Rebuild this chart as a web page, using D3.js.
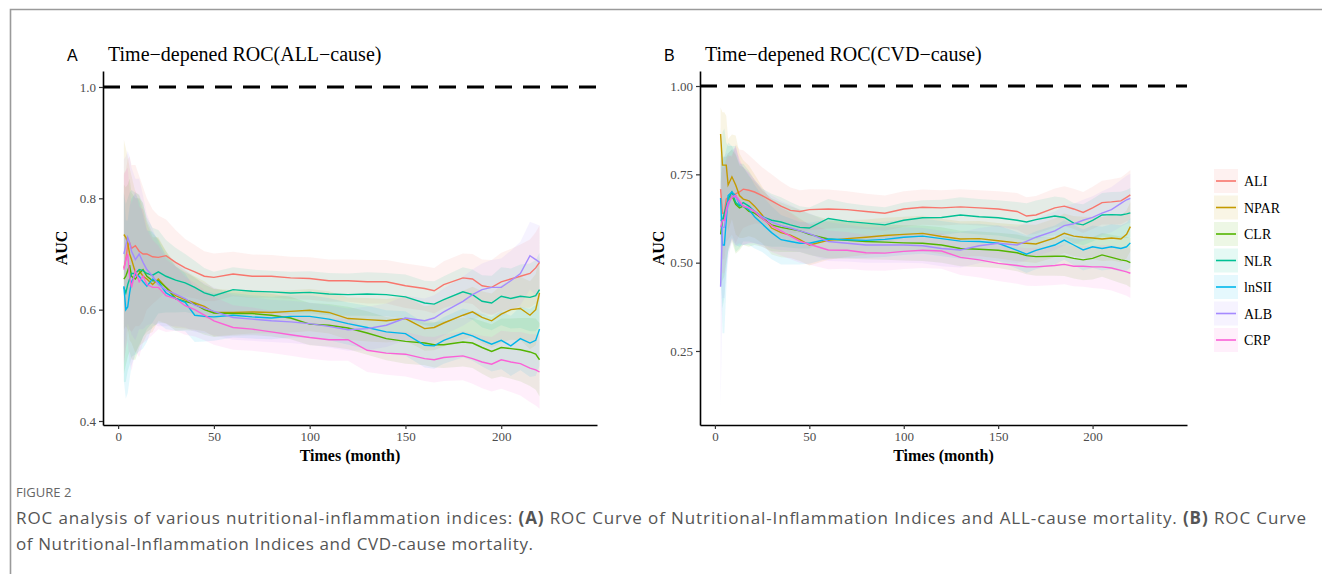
<!DOCTYPE html>
<html>
<head>
<meta charset="utf-8">
<script src="https://cdn.jsdelivr.net/npm/d3@7/dist/d3.min.js"></script>
<style>
  body { margin: 0; background: #fff; }
</style>
</head>
<body>
<script>
// page size
const WIDTH = 1322, HEIGHT = 574;

const seriesNames = ['ALI', 'NPAR', 'CLR', 'NLR', 'lnSII', 'ALB', 'CRP'];
const seriesColors = ['#F8766D', '#C49A00', '#53B400', '#00C094', '#00B6EB', '#A58AFF', '#FB61D7'];

const months = [3, 4, 5, 6, 7, 9, 11, 13, 15, 18,
  21, 25, 30, 35, 40, 45, 50, 60, 70, 80,
  90, 100, 110, 120, 130, 140, 150, 160, 165, 170,
  180, 185, 190, 195, 200, 205, 210, 215, 218, 220];

// panel A: all-cause mortality
const aliAll = [0.675, 0.69, 0.715, 0.72, 0.71, 0.715, 0.705, 0.70, 0.70, 0.695,
  0.694, 0.697, 0.685, 0.675, 0.668, 0.66, 0.658, 0.664, 0.66, 0.66,
  0.657, 0.656, 0.652, 0.652, 0.65, 0.65, 0.643, 0.638, 0.634, 0.645,
  0.657, 0.655, 0.643, 0.64, 0.65, 0.655, 0.66, 0.665, 0.675, 0.685];
const nparAll = [0.735, 0.73, 0.72, 0.70, 0.69, 0.667, 0.67, 0.66, 0.655, 0.645,
  0.655, 0.64, 0.625, 0.618, 0.612, 0.606, 0.595, 0.595, 0.596, 0.595,
  0.597, 0.599, 0.595, 0.584, 0.582, 0.58, 0.584, 0.566, 0.568, 0.576,
  0.59, 0.596, 0.586, 0.58, 0.592, 0.6, 0.602, 0.59, 0.6, 0.63];
const clrAll = [0.655, 0.66, 0.67, 0.68, 0.66, 0.655, 0.665, 0.672, 0.66, 0.652,
  0.652, 0.64, 0.62, 0.615, 0.61, 0.6, 0.594, 0.593, 0.593, 0.59,
  0.585, 0.574, 0.572, 0.567, 0.558, 0.548, 0.543, 0.54, 0.537, 0.537,
  0.542, 0.54, 0.532, 0.525, 0.532, 0.53, 0.528, 0.524, 0.52, 0.51];
const nlrAll = [0.64, 0.63, 0.645, 0.655, 0.665, 0.665, 0.672, 0.67, 0.665, 0.662,
  0.668, 0.66, 0.653, 0.648, 0.64, 0.63, 0.625, 0.636, 0.633, 0.632,
  0.63, 0.631, 0.628, 0.627, 0.628, 0.627, 0.623, 0.612, 0.61, 0.618,
  0.632, 0.627, 0.615, 0.612, 0.624, 0.62, 0.624, 0.622, 0.625, 0.636];
const lnsiiAll = [0.642, 0.60, 0.605, 0.63, 0.65, 0.663, 0.66, 0.65, 0.642, 0.655,
  0.65, 0.63, 0.62, 0.613, 0.59, 0.588, 0.587, 0.59, 0.587, 0.585,
  0.588, 0.588, 0.583, 0.575, 0.568, 0.56, 0.557, 0.536, 0.535, 0.545,
  0.558, 0.553, 0.545, 0.538, 0.545, 0.535, 0.548, 0.54, 0.545, 0.565];
const albAll = [0.70, 0.715, 0.73, 0.72, 0.705, 0.69, 0.70, 0.685, 0.672, 0.66,
  0.645, 0.635, 0.628, 0.62, 0.608, 0.603, 0.597, 0.586, 0.583, 0.58,
  0.578, 0.575, 0.57, 0.564, 0.566, 0.572, 0.585, 0.58, 0.585, 0.596,
  0.615, 0.627, 0.636, 0.64, 0.64, 0.652, 0.665, 0.697, 0.69, 0.685];
const crpAll = [0.672, 0.69, 0.70, 0.66, 0.64, 0.67, 0.65, 0.66, 0.645, 0.64,
  0.64, 0.625, 0.62, 0.607, 0.60, 0.59, 0.58, 0.568, 0.565, 0.56,
  0.555, 0.55, 0.546, 0.546, 0.527, 0.522, 0.52, 0.512, 0.51, 0.514,
  0.517, 0.512, 0.506, 0.502, 0.51, 0.506, 0.503, 0.495, 0.492, 0.488];
// half width of the confidence band, panel A
const ciHalfAll = [0.17, 0.16, 0.155, 0.155, 0.15, 0.145, 0.135, 0.12, 0.1, 0.085,
  0.075, 0.065, 0.058, 0.052, 0.048, 0.045, 0.043, 0.04, 0.039, 0.038,
  0.038, 0.038, 0.038, 0.038, 0.039, 0.039, 0.04, 0.04, 0.041, 0.042,
  0.044, 0.045, 0.047, 0.049, 0.052, 0.054, 0.057, 0.061, 0.064, 0.066];

// panel B: CVD mortality
const aliCvd = [0.708, 0.64, 0.64, 0.68, 0.685, 0.69, 0.695, 0.70, 0.708, 0.705,
  0.70, 0.69, 0.675, 0.66, 0.648, 0.645, 0.65, 0.652, 0.65, 0.645,
  0.64, 0.652, 0.657, 0.655, 0.658, 0.655, 0.652, 0.645, 0.632, 0.635,
  0.655, 0.66, 0.652, 0.642, 0.655, 0.67, 0.672, 0.675, 0.685, 0.692];
const nparCvd = [0.864, 0.776, 0.776, 0.776, 0.72, 0.743, 0.72, 0.69, 0.68, 0.675,
  0.66, 0.635, 0.598, 0.585, 0.578, 0.565, 0.55, 0.563, 0.568, 0.572,
  0.577, 0.58, 0.583, 0.574, 0.567, 0.568, 0.562, 0.556, 0.555, 0.553,
  0.57, 0.583, 0.575, 0.572, 0.57, 0.567, 0.57, 0.567, 0.58, 0.602];
const clrCvd = [0.58, 0.62, 0.63, 0.65, 0.67, 0.69, 0.665, 0.655, 0.66, 0.645,
  0.64, 0.625, 0.607, 0.60, 0.595, 0.59, 0.58, 0.567, 0.563, 0.56,
  0.558, 0.556, 0.555, 0.55, 0.54, 0.538, 0.535, 0.528, 0.52, 0.517,
  0.518, 0.518, 0.512, 0.508, 0.512, 0.522, 0.515, 0.508, 0.505, 0.50];
const nlrCvd = [0.62, 0.62, 0.64, 0.66, 0.68, 0.70, 0.67, 0.66, 0.67, 0.66,
  0.645, 0.63, 0.62, 0.615, 0.607, 0.60, 0.598, 0.625, 0.617, 0.612,
  0.607, 0.62, 0.627, 0.628, 0.635, 0.63, 0.627, 0.62, 0.615, 0.622,
  0.632, 0.628, 0.612, 0.607, 0.62, 0.635, 0.636, 0.635, 0.638, 0.641];
const lnsiiCvd = [0.683, 0.55, 0.55, 0.62, 0.69, 0.70, 0.69, 0.665, 0.66, 0.65,
  0.63, 0.61, 0.585, 0.565, 0.56, 0.555, 0.555, 0.567, 0.565, 0.563,
  0.566, 0.572, 0.575, 0.568, 0.561, 0.56, 0.555, 0.535, 0.524, 0.535,
  0.55, 0.564, 0.55, 0.536, 0.545, 0.54, 0.545, 0.54, 0.545, 0.556];
const albCvd = [0.432, 0.60, 0.60, 0.64, 0.66, 0.69, 0.685, 0.67, 0.66, 0.655,
  0.645, 0.63, 0.615, 0.605, 0.598, 0.59, 0.582, 0.56, 0.555, 0.55,
  0.55, 0.55, 0.548, 0.54, 0.536, 0.548, 0.555, 0.55, 0.56, 0.572,
  0.59, 0.605, 0.61, 0.62, 0.628, 0.64, 0.65, 0.668, 0.678, 0.682];
const crpCvd = [0.60, 0.62, 0.62, 0.65, 0.67, 0.685, 0.69, 0.675, 0.66, 0.655,
  0.645, 0.625, 0.605, 0.59, 0.575, 0.56, 0.552, 0.536, 0.535, 0.528,
  0.527, 0.532, 0.535, 0.533, 0.515, 0.508, 0.498, 0.492, 0.488, 0.488,
  0.492, 0.495, 0.49, 0.49, 0.488, 0.488, 0.485, 0.478, 0.474, 0.47];
const ciHalfCvd = [0.12, 0.2, 0.2, 0.18, 0.16, 0.15, 0.14, 0.12, 0.11, 0.1,
  0.09, 0.08, 0.075, 0.07, 0.065, 0.06, 0.058, 0.055, 0.052, 0.05,
  0.05, 0.05, 0.05, 0.05, 0.05, 0.05, 0.05, 0.052, 0.053, 0.054,
  0.055, 0.056, 0.057, 0.058, 0.06, 0.062, 0.064, 0.066, 0.068, 0.07];
// the first months of panel B differ per index (same order as seriesNames)
const earlyHalfCvd = [
  [0.12, 0.13, 0.13, 0.12, 0.12, 0.11],
  [0.075, 0.15, 0.15, 0.14, 0.13, 0.12],
  [0.15, 0.17, 0.17, 0.15, 0.14, 0.13],
  [0.15, 0.25, 0.24, 0.18, 0.15, 0.13],
  [0.2, 0.25, 0.25, 0.2, 0.15, 0.13],
  [0.34, 0.2, 0.2, 0.17, 0.15, 0.13],
  [0.12, 0.15, 0.15, 0.14, 0.13, 0.12]
];

const xTicks = [0, 50, 100, 150, 200];
const yTicksAll = [0.4, 0.6, 0.8, 1.0];
const yTicksCvd = [0.25, 0.50, 0.75, 1.00];

const SERIF = '"Liberation Serif", "Times New Roman", serif';
const SANS = '"Liberation Sans", Arial, sans-serif';

const svg = d3.select('body').append('svg')
  .attr('width', WIDTH)
  .attr('height', HEIGHT);

// figure frame (left and top rule)
svg.append('path')
  .attr('d', `M10.5,${HEIGHT} V9.5 H${WIDTH}`)
  .attr('fill', 'none')
  .attr('stroke', '#9a9a9a')
  .attr('stroke-width', 1.6);

const panels = [
  {
    letter: 'A', title: 'Time\u2212depened ROC(ALL\u2212cause)',
    left: 103, right: 597, top: 71, bottom: 425,
    yDomain: [0.3928, 1.0287], yTicks: yTicksAll, yFormat: d3.format('.1f'),
    series: [aliAll, nparAll, clrAll, nlrAll, lnsiiAll, albAll, crpAll],
    half: (i, j) => ciHalfAll[j]
  },
  {
    letter: 'B', title: 'Time\u2212depened ROC(CVD\u2212cause)',
    left: 700, right: 1187, top: 71, bottom: 425,
    yDomain: [0.0405, 1.0425], yTicks: yTicksCvd, yFormat: d3.format('.2f'),
    series: [aliCvd, nparCvd, clrCvd, nlrCvd, lnsiiCvd, albCvd, crpCvd],
    half: (i, j) => j < earlyHalfCvd[i].length ? earlyHalfCvd[i][j] : ciHalfCvd[j]
  }
];

panels.forEach(p => {
  const x = d3.scaleLinear().domain([-7.9, 250]).range([p.left, p.right]);
  const y = d3.scaleLinear().domain(p.yDomain).range([p.bottom, p.top]);
  const g = svg.append('g');

  // confidence bands
  p.series.forEach((vals, i) => {
    const area = d3.area()
      .x((d, j) => x(months[j]))
      .y0((d, j) => y(d - p.half(i, j)))
      .y1((d, j) => y(d + p.half(i, j)));
    g.append('path')
      .attr('d', area(vals))
      .attr('fill', seriesColors[i])
      .attr('fill-opacity', 0.1);
  });

  // AUC lines
  p.series.forEach((vals, i) => {
    const line = d3.line()
      .x((d, j) => x(months[j]))
      .y(d => y(d));
    g.append('path')
      .attr('d', line(vals))
      .attr('fill', 'none')
      .attr('stroke', seriesColors[i])
      .attr('stroke-width', 1.4);
  });

  // reference line at AUC = 1
  g.append('line')
    .attr('x1', p.left).attr('x2', p.right)
    .attr('y1', y(1)).attr('y2', y(1))
    .attr('stroke', '#000')
    .attr('stroke-width', 3)
    .attr('stroke-dasharray', '17,11');

  const xAxis = g.append('g')
    .attr('transform', `translate(0,${p.bottom})`)
    .call(d3.axisBottom(x).tickValues(xTicks).tickSize(4).tickSizeOuter(0).tickPadding(3));
  const yAxis = g.append('g')
    .attr('transform', `translate(${p.left},0)`)
    .call(d3.axisLeft(y).tickValues(p.yTicks).tickFormat(p.yFormat).tickSize(4).tickSizeOuter(0).tickPadding(3));

  [xAxis, yAxis].forEach(a => {
    a.select('.domain').attr('stroke', '#000').attr('stroke-width', 1.6);
    a.selectAll('.tick line').attr('stroke', '#333').attr('stroke-width', 1.2);
    a.selectAll('.tick text')
      .attr('fill', '#4d4d4d')
      .style('font-family', SERIF)
      .style('font-size', '13px');
  });

  g.append('text')
    .attr('x', (p.left + p.right) / 2)
    .attr('y', 461)
    .attr('text-anchor', 'middle')
    .style('font-family', SERIF)
    .style('font-weight', 'bold')
    .style('font-size', '16px')
    .text('Times (month)');

  g.append('text')
    .attr('transform', `translate(${p.left - 36},${(p.top + p.bottom) / 2}) rotate(-90)`)
    .attr('text-anchor', 'middle')
    .style('font-family', SERIF)
    .style('font-weight', 'bold')
    .style('font-size', '16px')
    .text('AUC');

  g.append('text')
    .attr('x', p.left - 36)
    .attr('y', 61)
    .style('font-family', SANS)
    .style('font-size', '16px')
    .text(p.letter);

  g.append('text')
    .attr('x', p.left + 5)
    .attr('y', 61)
    .style('font-family', SERIF)
    .style('font-size', '20px')
    .text(p.title);
});

// legend
const legend = svg.append('g').attr('transform', 'translate(1214,169)');
seriesNames.forEach((name, i) => {
  const row = legend.append('g').attr('transform', `translate(0,${i * 26.5})`);
  row.append('rect')
    .attr('width', 24).attr('height', 24)
    .attr('fill', seriesColors[i])
    .attr('fill-opacity', 0.1);
  row.append('line')
    .attr('x1', 2).attr('x2', 22)
    .attr('y1', 12).attr('y2', 12)
    .attr('stroke', seriesColors[i])
    .attr('stroke-width', 1.6);
  row.append('text')
    .attr('x', 30).attr('y', 17)
    .style('font-family', SERIF)
    .style('font-size', '14px')
    .text(name);
});

// caption
const CAPTION_FONT = '"Open Sans", "Noto Sans", sans-serif';
svg.append('text')
  .attr('x', 16).attr('y', 497)
  .attr('fill', '#666')
  .style('font-family', CAPTION_FONT)
  .style('font-size', '13px')
  .text('FIGURE 2');

const cap1 = svg.append('text')
  .attr('x', 16).attr('y', 524)
  .attr('fill', '#555')
  .attr('textLength', 1290)
  .attr('lengthAdjust', 'spacing')
  .style('font-family', CAPTION_FONT)
  .style('font-size', '17px');
cap1.append('tspan').text('ROC analysis of various nutritional-inflammation indices: ');
cap1.append('tspan').style('font-weight', 'bold').text('(A)');
cap1.append('tspan').text(' ROC Curve of Nutritional-Inflammation Indices and ALL-cause mortality. ');
cap1.append('tspan').style('font-weight', 'bold').text('(B)');
cap1.append('tspan').text(' ROC Curve');

svg.append('text')
  .attr('x', 16).attr('y', 550)
  .attr('fill', '#555')
  .attr('textLength', 517)
  .attr('lengthAdjust', 'spacing')
  .style('font-family', CAPTION_FONT)
  .style('font-size', '17px')
  .text('of Nutritional-Inflammation Indices and CVD-cause mortality.');
</script>
</body>
</html>
